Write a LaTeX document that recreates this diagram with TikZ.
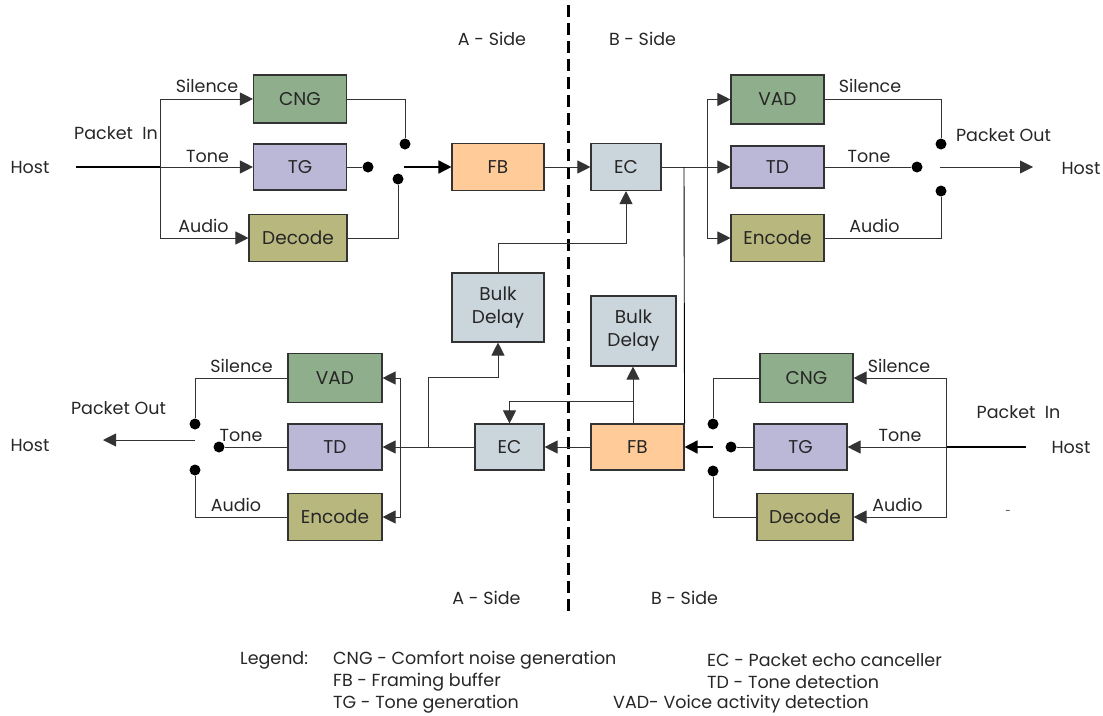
\documentclass[tikz,border=0pt]{standalone}
\usepackage{fontspec}
\setmainfont{Poppins}
\usetikzlibrary{arrows.meta}
\definecolor{cgreen}{RGB}{143,174,139}
\definecolor{cpurple}{RGB}{187,183,215}
\definecolor{colive}{RGB}{184,184,126}
\definecolor{corange}{RGB}{255,204,153}
\definecolor{cblue}{RGB}{203,214,220}
\tikzset{
  blk/.style={draw=black!80, line width=1.1pt, inner sep=0pt, align=center,
    font=\fontsize{18.5}{23}\selectfont, text=black!85},
  greenbox/.style={blk, fill=cgreen},
  purplebox/.style={blk, fill=cpurple},
  olivebox/.style={blk, fill=colive},
  orangebox/.style={blk, fill=corange},
  bluebox/.style={blk, fill=cblue},
  wire/.style={draw=black!80, line width=0.9pt},
  flow/.style={wire, -{Triangle[length=13pt,width=13pt]}},
  heavyflow/.style={draw=black, line width=1.7pt, -{Triangle[length=13pt,width=13pt]}},
  lbl/.style={inner sep=0pt, font=\fontsize{17.5}{20}\selectfont, text=black!85},
  contact/.style={circle, fill=black, inner sep=0pt, minimum size=11pt},
}
\begin{document}
\begin{tikzpicture}[x=1pt,y=-1pt]
\useasboundingbox (0,0) rectangle (1103,715);

% side divider
\draw[line width=3pt, dash pattern=on 12pt off 6pt] (568,5) -- (568,612);

% ---------- top path (A to B) ----------
\node[greenbox, minimum width=93pt, minimum height=48pt] (cngA) at (300,99) {CNG};
\node[purplebox, minimum width=93pt, minimum height=46pt] (tgA) at (300,167) {TG};
\node[olivebox, minimum width=98pt, minimum height=47pt] (decA) at (298,238) {Decode};
\node[orangebox, minimum width=92pt, minimum height=47pt] (fbA) at (498,167) {FB};
\node[bluebox, minimum width=70pt, minimum height=47pt] (ecA) at (626,167) {EC};
\node[greenbox, minimum width=93pt, minimum height=49pt] (vadA) at (777.5,99.5) {VAD};
\node[purplebox, minimum width=93pt, minimum height=42pt] (tdA) at (777.5,167) {TD};
\node[olivebox, minimum width=93pt, minimum height=47pt] (encA) at (777.5,238) {Encode};
\node[bluebox, minimum width=92pt, minimum height=69pt] (bdA) at (498,307.5) {Bulk\\Delay};

% ---------- bottom path (B to A) ----------
\node[bluebox, minimum width=85pt, minimum height=70pt] (bdB) at (633.5,331) {Bulk\\Delay};
\node[bluebox, minimum width=69pt, minimum height=46pt] (ecB) at (509.5,447) {EC};
\node[orangebox, minimum width=93pt, minimum height=46pt] (fbB) at (637.5,447) {FB};
\node[greenbox, minimum width=94pt, minimum height=49pt] (vadB) at (335,378) {VAD};
\node[purplebox, minimum width=94pt, minimum height=46pt] (tdB) at (335,447) {TD};
\node[olivebox, minimum width=94pt, minimum height=47pt] (encB) at (335,517) {Encode};
\node[greenbox, minimum width=93pt, minimum height=49pt] (cngB) at (806.5,378) {CNG};
\node[purplebox, minimum width=93pt, minimum height=46pt] (tgB) at (800.5,447) {TG};
\node[olivebox, minimum width=96pt, minimum height=47pt] (decB) at (805,517) {Decode};

% ---------- switch contacts ----------
\node[contact] (cA1) at (405,144) {};
\node[contact] (cA2) at (368,167) {};
\node[contact] (cA3) at (398,179) {};
\node[contact] (cR1) at (941,144) {};
\node[contact] (cR2) at (917,167) {};
\node[contact] (cR3) at (941,191) {};
\node[contact] (cL1) at (195,424) {};
\node[contact] (cL2) at (219,447) {};
\node[contact] (cL3) at (195,470) {};
\node[contact] (cB1) at (713,424) {};
\node[contact] (cB2) at (731,447) {};
\node[contact] (cB3) at (713,471) {};

% ---------- junction points ----------
\coordinate (hinA) at (76,167);
\coordinate (splitA) at (160,167);
\coordinate (swA) at (404,167);
\coordinate (brA) at (707,167);
\coordinate (tapA) at (684,167);
\coordinate (swR) at (940,167);
\coordinate (houtR) at (1033,167);
\coordinate (hinB) at (1026,447);
\coordinate (splitB) at (946,447);
\coordinate (swB) at (713,447);
\coordinate (fbTap) at (633,424);
\coordinate (bdTap) at (633,401);
\coordinate (brL) at (400,447);
\coordinate (tapL) at (428,447);
\coordinate (swL) at (195,440);
\coordinate (houtL) at (103,440);

% ---------- connectors: top ----------
\draw[draw=black, line width=1.5pt] (hinA) -- (splitA);
\draw[flow] (splitA) -- (tgA.west);
\draw[flow] (splitA) |- (cngA.west);
\draw[flow] (splitA) |- (decA.west);
\draw[wire] (cngA.east) -| (cA1);
\draw[wire] (tgA.east) -- (cA2);
\draw[wire] (decA.east) -| (cA3);
\draw[heavyflow] (swA) -- (fbA.west);
\draw[flow] (fbA.east) -- (ecA.west);
\draw[wire] (ecA.east) -- (brA);
\draw[flow] (brA) |- (vadA.west);
\draw[flow] (brA) -- (tdA.west);
\draw[flow] (brA) |- (encA.west);
\draw[wire, draw=black] (tapA) -- (fbB.north east);
\draw[wire] (vadA.east) -| (cR1);
\draw[wire] (tdA.east) -- (cR2);
\draw[wire] (encA.east) -| (cR3);
\draw[flow] (swR) -- (houtR);
\draw[flow] (bdA.north) -- ++(0,-29) -| (ecA.south);

% ---------- connectors: bottom ----------
\draw[draw=black, line width=1.5pt] (hinB) -- (splitB);
\draw[flow] (splitB) -- (tgB.east);
\draw[flow] (splitB) |- (cngB.east);
\draw[flow] (splitB) |- (decB.east);
\draw[wire] (cngB.west) -| (cB1);
\draw[wire] (tgB.west) -- (cB2);
\draw[wire] (decB.west) -| (cB3);
\draw[heavyflow] (swB) -- (fbB.east);
\draw[flow] (fbB.west) -- (ecB.east);
\draw[flow] (fbTap) -- (bdB.south -| fbTap);
\draw[flow] (bdTap) -| (ecB.north);
\draw[flow] (ecB.west) -- (tdB.east);
\draw[flow] (brL) |- (vadB.east);
\draw[flow] (brL) |- (encB.east);
\draw[flow] (tapL) -- ++(0,-70) -| (bdA.south);
\draw[wire] (vadB.west) -| (cL1);
\draw[wire] (tdB.west) -- (cL2);
\draw[wire] (encB.west) -| (cL3);
\draw[flow] (swL) -- (houtL);

% ---------- labels ----------
\node[lbl] (hostTL) at (30,167) {Host};
\node[lbl] (pinTL) at (116,133) {Packet\ \ In};
\node[lbl] (silTL) at (207,86) {Silence};
\node[lbl] (toneTL) at (207.5,156) {Tone};
\node[lbl] (audTL) at (203.5,226) {Audio};

\node[lbl] (silTR) at (870,86) {Silence};
\node[lbl] (toneTR) at (869,156) {Tone};
\node[lbl] (audTR) at (874.5,226) {Audio};
\node[lbl] (poutTR) at (1003.5,135) {Packet Out};
\node[lbl] (hostTR) at (1081,168) {Host};

\node[lbl] (silBL) at (241.5,366) {Silence};
\node[lbl] (toneBL) at (241,435) {Tone};
\node[lbl] (audBL) at (236,505) {Audio};
\node[lbl] (poutBL) at (118.5,408) {Packet Out};
\node[lbl] (hostBL) at (30,445) {Host};

\node[lbl] (silBR) at (899,366) {Silence};
\node[lbl] (toneBR) at (900,435) {Tone};
\node[lbl] (audBR) at (897.5,505) {Audio};
\node[lbl] (pinBR) at (1018.5,412) {Packet\ \ In};
\node[lbl] (hostBR) at (1071,447) {Host};
\node[lbl, font=\fontsize{10}{12}\selectfont] (dashBR) at (1008,512) {-};

\node[lbl] (sideAT) at (492,39) {A - Side};
\node[lbl] (sideBT) at (642.5,39) {B - Side};
\node[lbl] (sideAB) at (486.5,598) {A - Side};
\node[lbl] (sideBB) at (684.5,598) {B - Side};

% ---------- legend ----------
\node[lbl, anchor=west] (legend) at (240,660) {Legend:};
\node[lbl, anchor=west] (lgCNG) at (333,660) {CNG - Comfort noise generation};
\node[lbl, anchor=west] (lgFB) at (333,682) {FB - Framing buffer};
\node[lbl, anchor=west] (lgTG) at (333,704) {TG - Tone generation};
\node[lbl, anchor=west] (lgEC) at (707,660) {EC - Packet echo canceller};
\node[lbl, anchor=west] (lgTD) at (707,682) {TD - Tone detection};
\node[lbl, anchor=west] (lgVAD) at (613,704) {VAD- Voice activity detection};
\end{tikzpicture}
\end{document}
